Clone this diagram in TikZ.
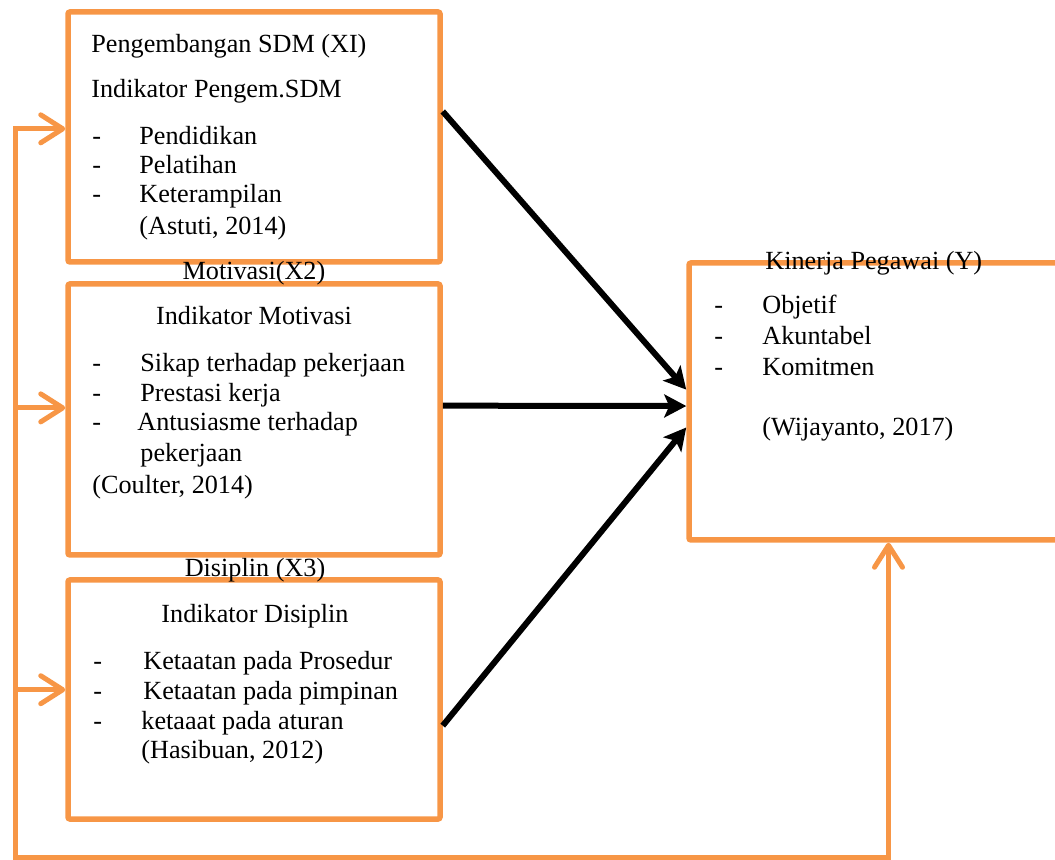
\documentclass[tikz,border=0pt]{standalone}
\usepackage{fontspec}
\setmainfont{Liberation Serif}
\usetikzlibrary{arrows.meta,calc}
\definecolor{oranye}{RGB}{247,150,70}
\tikzset{
  kotak/.style={draw=oranye,line width=2.75pt,rounded corners=1pt,minimum width=186pt,inner sep=0pt},
  teks/.style={anchor=base west,inner sep=0pt,font=\fontsize{13.1}{15}\selectfont},
  pengaruh/.style={line width=3pt,-{Stealth[length=11pt,width=11.5pt,inset=2.5pt]}},
  panah/.tip={Straight Barb[length=11pt,width=14pt,round]},
  umpan/.style={draw=oranye,line width=2.5pt}
}
\begin{document}
\begin{tikzpicture}[x=0.5pt,y=-0.5pt]
\useasboundingbox (0,0) rectangle (1055,860);
% kotak variabel
\node[kotak,minimum height=125pt] (sdm) at (254,137) {};
\node[kotak,minimum height=135.5pt] (motivasi) at (254,419.5) {};
\node[kotak,minimum height=119.5pt] (disiplin) at (254,699.5) {};
\node[kotak,minimum width=199.5pt,minimum height=138.5pt] (kinerja) at (888.5,401.5) {};
% X1
\node[teks] (judul1) at (91,53) {Pengembangan SDM (XI)};
\node[teks] (ind1) at (91,98) {Indikator Pengem.SDM};
\foreach \isi[count=\i from 0] in {Pendidikan,Pelatihan,Keterampilan}{
  \node[teks] (strip1\i) at (92,{145+29*\i}) {-};
  \node[teks] (isi1\i) at (139,{145+29*\i}) {\isi};
}
\node[teks] (sumber1) at (139,235) {(Astuti, 2014)};
% X2
\node[teks,anchor=base] (judul2) at (254,280) {Motivasi(X2)};
\node[teks,anchor=base] (ind2) at (254,325) {Indikator Motivasi};
\foreach \isi/\x/\y[count=\i] in {Sikap terhadap pekerjaan/140/372,Prestasi kerja/140/402,Antusiasme terhadap/137/431}{
  \node[teks] (strip2\i) at (92,\y) {-};
  \node[teks] (isi2\i) at (\x,\y) {\isi};
}
\node[teks] (lanjut2) at (140,462) {pekerjaan};
\node[teks] (sumber2) at (92,494) {(Coulter, 2014)};
% X3
\node[teks,anchor=base] (judul3) at (255,577) {Disiplin (X3)};
\node[teks,anchor=base] (ind3) at (255,623) {Indikator Disiplin};
\foreach \isi/\x/\y[count=\i] in {Ketaatan pada Prosedur/143/669,Ketaatan pada pimpinan/143/699,ketaaat pada aturan/141/729}{
  \node[teks] (strip3\i) at (93,\y) {-};
  \node[teks] (isi3\i) at (\x,\y) {\isi};
}
\node[teks] (sumber3) at (141,758) {(Hasibuan, 2012)};
% Y
\node[teks] (judulY) at (765,270) {Kinerja Pegawai (Y)};
\foreach \isi[count=\i from 0] in {Objetif,Akuntabel,Komitmen}{
  \node[teks] (stripY\i) at (714,{314+31*\i}) {-};
  \node[teks] (isiY\i) at (762,{314+31*\i}) {\isi};
}
\node[teks] (sumberY) at (762,436) {(Wijayanto, 2017)};
% titik ujung panah
\path
($(sdm.north east)!.4!(sdm.south east)$) coordinate (k1)
($(motivasi.north east)!.45!(motivasi.south east)$) coordinate (k2)
($(disiplin.north east)!.607!(disiplin.south east)$) coordinate (k3)
($(kinerja.north west)!.458!(kinerja.south west)$) coordinate (y1)
($(kinerja.north west)!.516!(kinerja.south west)$) coordinate (y2)
($(kinerja.north west)!.592!(kinerja.south west)$) coordinate (y3)
($(sdm.north west)!.468!(sdm.south west)$) coordinate (b1)
($(motivasi.north west)!.458!(motivasi.south west)$) coordinate (b2)
($(disiplin.north west)!.46!(disiplin.south west)$) coordinate (b3);
\coordinate (pojok) at (15,857);
\draw[pengaruh] (k1)--(y1);
\draw[pengaruh] (k2)--(y2);
\draw[pengaruh] (k3)--(y3);
% umpan balik
\draw[umpan,panah-panah] (kinerja.south) |- (pojok) |- (b1);
\draw[umpan,-panah] (pojok |- b2)--(b2);
\draw[umpan,-panah] (pojok |- b3)--(b3);
\end{tikzpicture}
\end{document}
